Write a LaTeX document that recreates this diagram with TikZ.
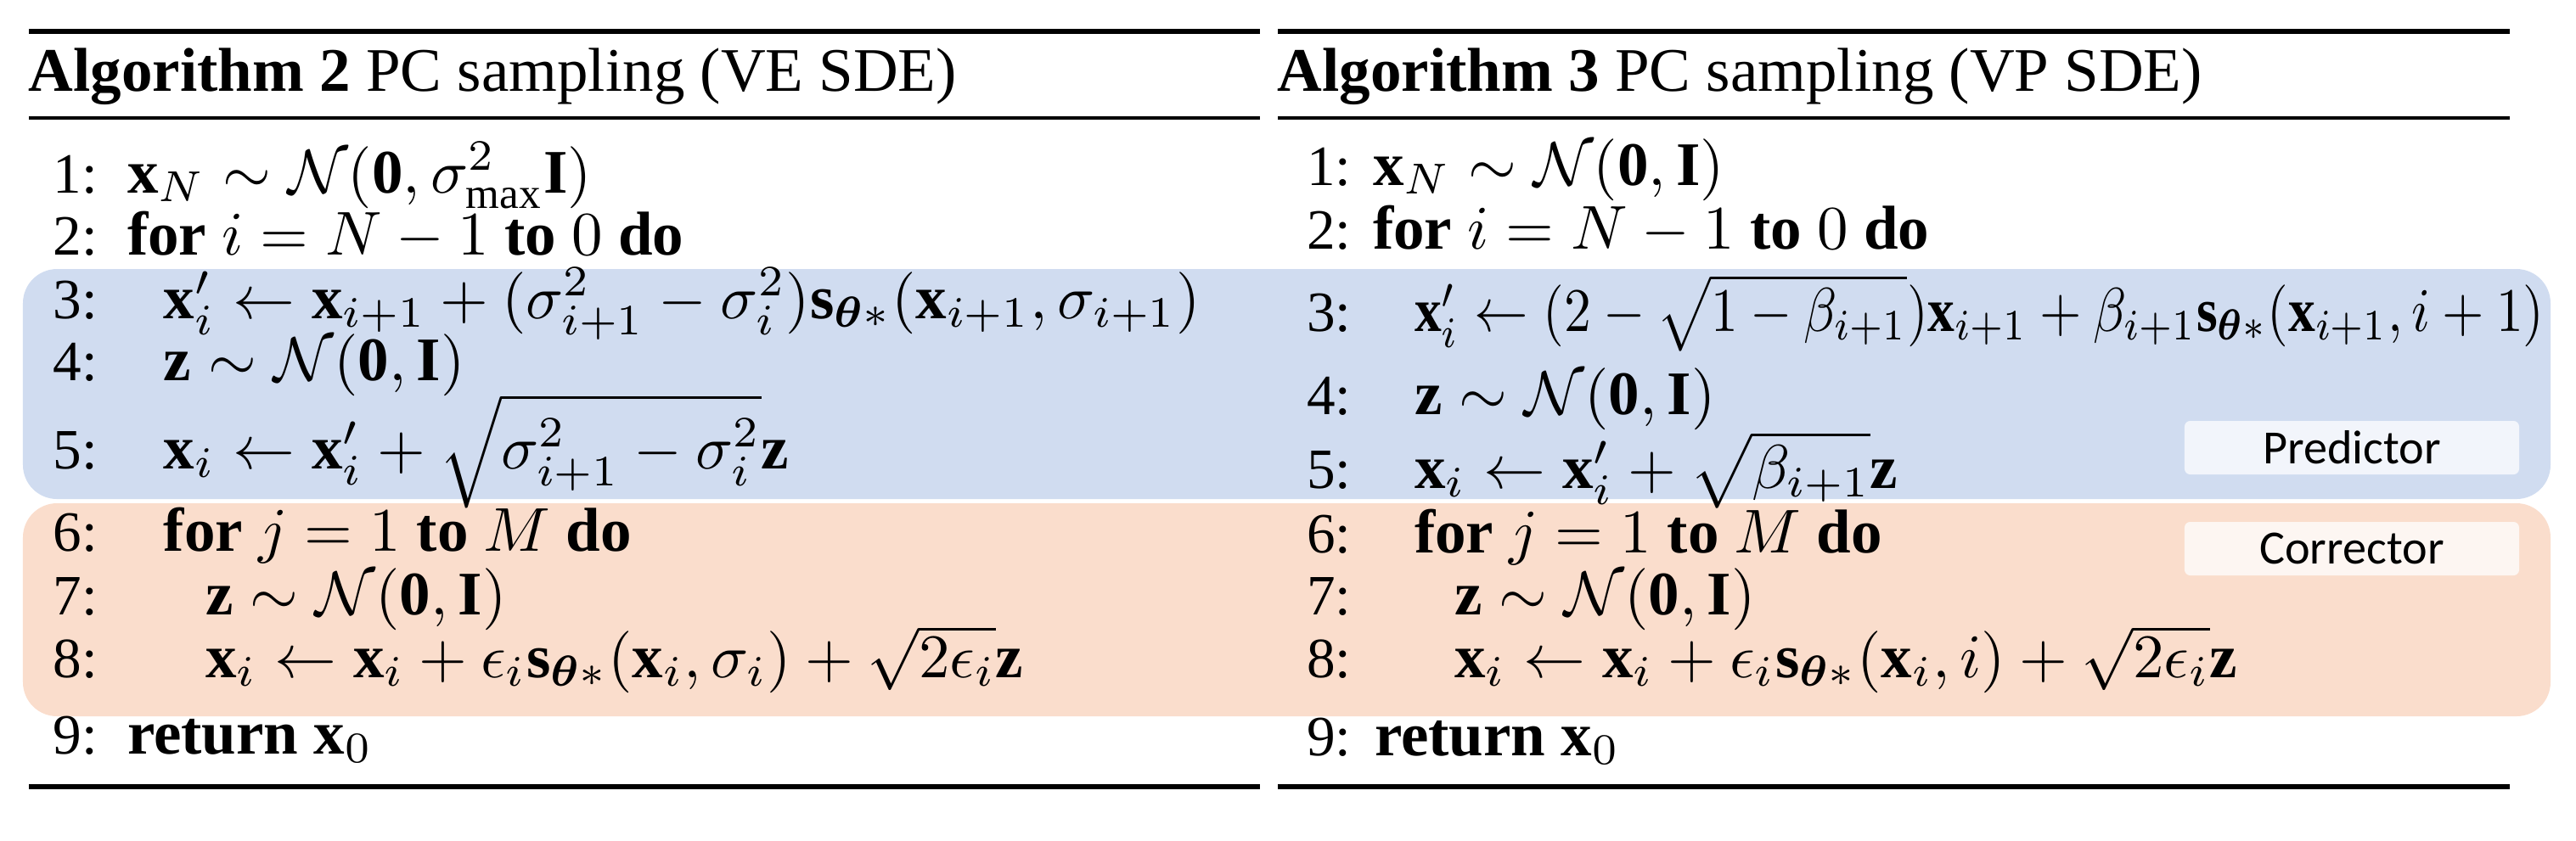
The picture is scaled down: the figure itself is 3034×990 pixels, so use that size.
\documentclass[tikz,border=0pt]{standalone}
\usepackage{amsmath,amssymb,bm}
\usepackage{graphicx}
\usepackage{fontspec}
\setmainfont{Liberation Serif}
\newfontfamily\labfont{Carlito}
\definecolor{bluebg}{RGB}{208,220,240}
\definecolor{orangebg}{RGB}{250,221,204}
\definecolor{bluelab}{RGB}{242,245,251}
\definecolor{orangelab}{RGB}{253,246,242}
\newcommand{\bx}{\mathbf{x}}
\newcommand{\bz}{\mathbf{z}}
\newcommand{\sth}{\mathbf{s}_{\bm{\theta}*}}
\newcommand{\NI}{\mathcal{N}(\mathbf{0},\mathbf{I})}
\begin{document}
\begin{tikzpicture}[x=0.137pt,y=-0.137pt,
  txt/.style={inner sep=0pt,outer sep=0pt,anchor=base west,font=\fontsize{10}{12}\selectfont},
  num/.style={inner sep=0pt,outer sep=0pt,anchor=base west,font=\fontsize{9.2}{11}\selectfont},
  ttl/.style={inner sep=0pt,outer sep=0pt,anchor=base west,font=\fontsize{10}{12}\selectfont},
  labbox/.style={inner sep=0pt,minimum width=53.98pt,minimum height=8.63pt,rounded corners=0.9pt,font=\labfont\fontsize{7.7}{9}\selectfont},
  toprule/.style={line width=0.85pt},
  midrule/.style={line width=0.5pt},
  botrule/.style={line width=0.75pt}]
\useasboundingbox (0,0) rectangle (3034,990);
% background regions
\fill[bluebg,rounded corners=5.5pt] (27,317) rectangle (3004,588);
\fill[orangebg,rounded corners=5.5pt] (27,593) rectangle (3004,844);
% labels
\node[labbox,fill=bluelab] (pred) at (2770,527.5) {Predictor};
\node[labbox,fill=orangelab] (corr) at (2770,646.5) {Corrector};
% rules left
\draw[toprule] (34,37) -- (1484,37);
\draw[midrule] (34,139) -- (1484,139);
\draw[botrule] (34,927) -- (1484,927);
% rules right
\draw[toprule] (1505,37) -- (2956,37);
\draw[midrule] (1505,139) -- (2956,139);
\draw[botrule] (1505,927) -- (2956,927);
% titles
\node[ttl] (tl) at (34,107) {\textbf{Algorithm 2} PC sampling (VE SDE)};
\node[ttl] (tr) at (1505,107) {\textbf{Algorithm 3} PC sampling (VP SDE)};
% left algorithm
\node[num] (ln1) at (63,227) {1:};
\node[num] (ln2) at (63,300) {2:};
\node[num] (ln3) at (63,375) {3:};
\node[num] (ln4) at (63,448) {4:};
\node[num] (ln5) at (63,552) {5:};
\node[num] (ln6) at (63,649) {6:};
\node[num] (ln7) at (63,724) {7:};
\node[num] (ln8) at (63,798) {8:};
\node[num] (ln9) at (63,888) {9:};
\node[txt] (l1) at (150,227) {$\bx_N \sim \mathcal{N}(\mathbf{0},\sigma^2_{\mathrm{max}}\mathbf{I})$};
\node[txt] (l2) at (150,300) {\textbf{for} $i=N-1$ \textbf{to} $0$ \textbf{do}};
\node[txt] (l3) at (193,375) {$\bx'_i \gets \bx_{i+1} + (\sigma^2_{i+1}-\sigma^2_i)\sth(\bx_{i+1},\sigma_{i+1})$};
\node[txt] (l4) at (193,448) {$\bz\sim\NI$};
\node[txt] (l5) at (193,552) {$\bx_i \gets \bx'_i + \sqrt{\sigma^2_{i+1}-\sigma^2_i}\bz$};
\node[txt] (l6) at (193,649) {\textbf{for} $j=1$ \textbf{to} $M$ \textbf{do}};
\node[txt] (l7) at (242,724) {$\bz\sim\NI$};
\node[txt] (l8) at (242,798) {$\bx_i \gets \bx_i + \epsilon_i\sth(\bx_i,\sigma_i) + \sqrt{2\epsilon_i}\bz$};
\node[txt] (l9) at (150,888) {\textbf{return} $\bx_0$};
% right algorithm
\node[num] (rn1) at (1539,218) {1:};
\node[num] (rn2) at (1539,293) {2:};
\node[num] (rn3) at (1539,390) {3:};
\node[num] (rn4) at (1539,488) {4:};
\node[num] (rn5) at (1539,575) {5:};
\node[num] (rn6) at (1539,651) {6:};
\node[num] (rn7) at (1539,724) {7:};
\node[num] (rn8) at (1539,798) {8:};
\node[num] (rn9) at (1539,890) {9:};
\node[txt] (r1) at (1617,218) {$\bx_N \sim \NI$};
\node[txt] (r2) at (1617,293) {\textbf{for} $i=N-1$ \textbf{to} $0$ \textbf{do}};
\node[txt] (r3) at (1666,390) {\resizebox{182.3pt}{\height}{$\bx'_i \gets (2-\sqrt{1-\beta_{i+1}})\bx_{i+1} + \beta_{i+1}\sth(\bx_{i+1},i+1)$}};
\node[txt] (r4) at (1666,488) {$\bz\sim\NI$};
\node[txt] (r5) at (1666,575) {$\bx_i \gets \bx'_i + \sqrt{\beta_{i+1}}\bz$};
\node[txt] (r6) at (1666,651) {\textbf{for} $j=1$ \textbf{to} $M$ \textbf{do}};
\node[txt] (r7) at (1713,724) {$\bz\sim\NI$};
\node[txt] (r8) at (1713,798) {$\bx_i \gets \bx_i + \epsilon_i\sth(\bx_i,i) + \sqrt{2\epsilon_i}\bz$};
\node[txt] (r9) at (1619,890) {\textbf{return} $\bx_0$};
\end{tikzpicture}
\end{document}
